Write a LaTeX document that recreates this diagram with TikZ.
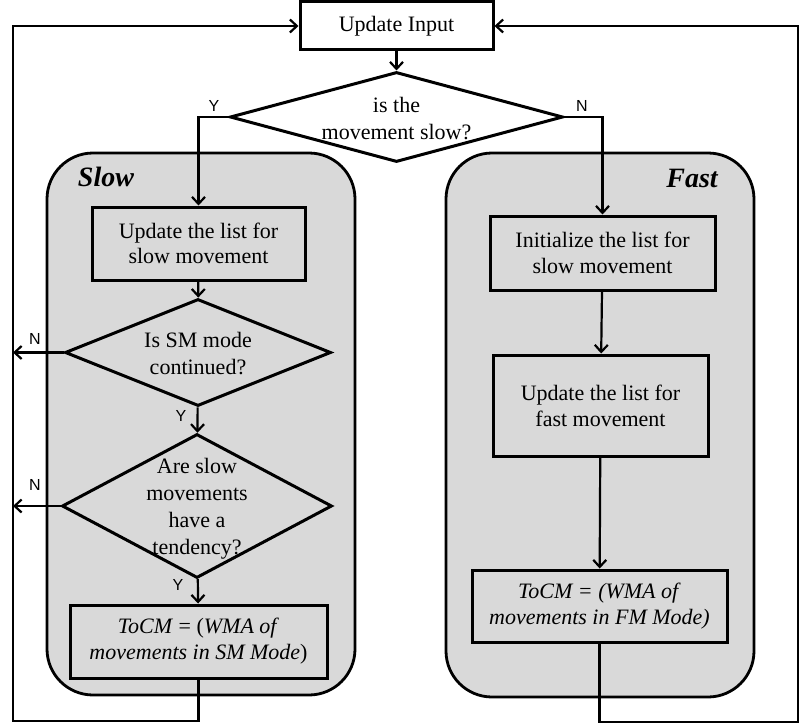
\documentclass[tikz,border=0pt]{standalone}
\usepackage{fontspec}
\setmainfont{Liberation Serif}
\newfontfamily\labfont{Liberation Sans}
\usetikzlibrary{shapes.geometric,arrows.meta}
\definecolor{boxgray}{RGB}{217,217,217}
\tikzset{
  container/.style={draw, line width=2.8pt, fill=boxgray, rounded corners=46pt, inner sep=0pt},
  procbox/.style={draw, line width=3pt, inner sep=0pt, align=center, font=\fontsize{22}{26}\selectfont},
  grayproc/.style={procbox, fill=boxgray},
  dia/.style={draw, diamond, line width=3pt, inner sep=0pt},
  diatext/.style={align=center, inner sep=0pt, font=\fontsize{22}{27}\selectfont},
  conn/.style={line width=2.2pt, -{Straight Barb[length=7pt,width=13pt]}},
  yn/.style={font=\labfont\fontsize{16}{16}\selectfont, inner sep=0pt},
  grouplabel/.style={font=\fontsize{28}{28}\selectfont\bfseries\itshape, inner sep=0pt}
}
\begin{document}
\begin{tikzpicture}[x=1pt,y=-1pt]
\useasboundingbox (0,0) rectangle (800,725);
% containers
\node[container, minimum width=308pt, minimum height=542pt] (slowc) at (201,424) {};
\node[container, minimum width=308pt, minimum height=544pt] (fastc) at (600,425) {};
\node[grouplabel] (slowl) at (106,177) {Slow};
\node[grouplabel] (fastl) at (692,178) {Fast};
% top
\node[procbox, minimum width=193pt, minimum height=48pt, fill=white] (in) at (396.5,26) {\raisebox{-2pt}{Update Input}};
\node[dia, minimum width=333pt, minimum height=90pt, fill=white] (d1) at (396.5,117) {};
\node[diatext] (d1t) at (396.5,119) {is the\\movement slow?};
% slow side
\node[grayproc, minimum width=213pt, minimum height=73pt] (us) at (198.5,243.5) {\raisebox{-1pt}{Update the list for}\\slow movement};
\node[dia, fill=boxgray, minimum width=266pt, minimum height=107pt] (d2) at (198,352.5) {};
\node[diatext] (d2t) at (198,354) {Is SM mode\\continued?};
\node[dia, fill=boxgray, minimum width=270pt, minimum height=144pt] (d3) at (197,506) {};
\node[diatext] (d3t) at (197,509) {Are slow\\movements\\have a\\tendency?};
\node[grayproc, minimum width=257pt, minimum height=73pt] (tocmS) at (198.5,641.5) {\textit{ToCM} = (\textit{WMA of}\\\textit{movements in SM Mode})};
% fast side
\node[grayproc, minimum width=225pt, minimum height=74pt] (init) at (602.5,253) {Initialize the list for\\slow movement};
\node[grayproc, minimum width=215pt, minimum height=101pt] (uf) at (600.5,405.5) {Update the list for\\fast movement};
\node[grayproc, minimum width=255pt, minimum height=72pt] (tocmF) at (599.5,606) {\textit{ToCM = (WMA of}\\\textit{movements in FM Mode)}};
% loop coordinates
\coordinate (lb) at (13,721);
\coordinate (rb) at (798,722);
% connectors
\draw[conn] (in) -- (d1);
\draw[conn] (d1.west) -| (us.north);
\draw[conn] (d1.east) -| (init.north);
\draw[conn] (us) -- (d2);
\draw[conn] (d2) -- (d3);
\draw[conn] (d3) -- (tocmS);
\draw[conn] (d2.west) -- (d2.west -| lb);
\draw[conn] (d3.west) -- (d3.west -| lb);
\draw[conn] (init) -- (uf);
\draw[conn] (uf) -- (tocmF);
\draw[conn] (tocmS.south) |- (lb) |- (in.west);
\draw[conn] (tocmF.south) |- (rb) |- (in.east);
% labels
\node[yn] (ly1) at (214,106) {Y};
\node[yn] (ln1) at (582,106) {N};
\node[yn] (ln2) at (35,339) {N};
\node[yn] (ly2) at (181,416) {Y};
\node[yn] (ln3) at (35,485) {N};
\node[yn] (ly3) at (178,585) {Y};
\end{tikzpicture}
\end{document}
